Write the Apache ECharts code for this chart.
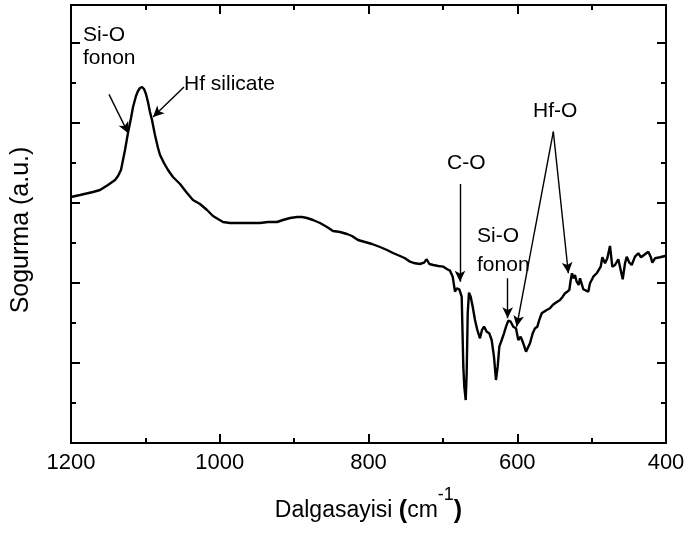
<!DOCTYPE html>
<html><head><meta charset="utf-8">
<script src="https://cdn.jsdelivr.net/npm/echarts@6/dist/echarts.min.js"></script>
<style>html,body{margin:0;padding:0;background:#fff}#c{width:684px;height:534px}</style>
</head><body><div id="c"></div>
<script>
const wavenumber = [
1200,1187.9,1170.4,1161.0,1150.3,1140.8,1136.8,1132.8,1130.1,1127.4,
1123.4,1119.3,1116.6,1112.6,1109.9,1107.2,1104.5,1101.8,1099.2,1096.5,
1093.8,1091.1,1087.1,1083.0,1080.3,1075.0,1069.6,1062.9,1053.4,1044.0,
1036.0,1026.6,1017.1,1009.1,1002.4,995.6,986.2,976.8,966.1,956.6,
945.9,935.1,923.0,915.0,905.5,896.1,889.4,882.7,874.6,865.2,
855.8,847.7,838.3,828.9,822.2,814.1,
804.7,795.3,784.5,775.1,767.1,757.6,
750.9,744.2,737.5,730.8,725.4,721.8,718.2,712.9,706.1,699.4,
694.1,690.4,686.8,683.7,681.4,677.9,674.7,672.5,671.2,669.3,
668.0,666.6,664.9,662.6,659.9,656.8,653.7,650.1,647.4,644.7,
641.1,637.6,634.4,631.3,628.6,626.3,624.1,620.9,617.8,615.1,
612.0,608.8,605.3,601.7,598.6,595.4,591.9,588.2,586.0,582.9,
579.2,576.1,573.0,570.4,567.1,564.0,560.4,556.0,552.3,549.2,
546.2,542.5,538.9,535.8,532.7,530.0,528.1,526.4,524.6,522.4,
520.1,517.4,
515.6,511.2,504.5,502.2,497.7,493.2,491.0,487.8,485.6,482.0,
478.9,475.3,472.2,468.6,464.1,460.9,458.2,455.1,452.8,449.3,
446.1,441.7,437.2,433.6,429.6,423.8,420.6,418.4,414.8,408.1,
401.3,400];
const absorbance = [
6.15,6.2,6.275,6.325,6.45,6.575,6.675,6.825,7.075,7.325,
7.75,8.125,8.4,8.675,8.8,8.875,8.9,8.85,8.725,8.525,
8.275,8.075,7.7,7.375,7.2,7.0,6.825,6.65,6.475,6.25,
6.075,5.975,5.825,5.675,5.6,5.525,5.5,5.5,5.5,5.5,
5.5,5.525,5.525,5.575,5.625,5.65,5.65,5.625,5.575,5.5,
5.4,5.3,5.275,5.225,5.175,5.075,
5.025,4.975,4.9,4.825,4.75,4.675,
4.618,4.533,4.493,4.475,4.508,4.593,4.475,4.45,4.425,4.408,
4.343,4.308,4.158,3.783,3.868,3.843,3.658,1.908,1.408,1.075,
1.743,3.243,3.758,3.658,3.408,3.075,2.825,2.618,2.825,2.908,
2.783,2.743,2.575,2.158,1.575,1.908,2.408,2.575,2.743,2.908,
3.058,3.033,2.908,2.868,2.575,2.658,2.493,2.283,2.243,2.493,
2.743,2.868,2.908,3.075,3.243,3.283,3.325,3.368,3.45,3.493,
3.533,3.575,3.658,3.743,3.783,3.825,4.075,4.243,4.118,4.2,
4.033,3.95,
4.118,3.843,3.783,3.993,4.158,4.243,4.283,4.408,4.643,4.493,
4.618,4.925,4.408,4.45,4.593,4.325,4.093,4.493,4.658,4.508,
4.45,4.658,4.743,4.643,4.7,4.783,4.658,4.508,4.618,4.643,
4.675,4.675];

const yMajorTicks = [2,4,6,8,10];
const yMinorTicks = [1,3,5,7,9];

// annotation arrows (data coordinates)
const arrowFrom = [[1148.9,8.717],[1048.1,8.9],[677.0,6.475],[612.9,4.118],[551.5,7.783],[551.5,7.783]];
const arrowTo   = [[1123.0,7.742],[1089.7,8.15],[677.0,4.033],[612.9,3.118],[600.8,2.908],[531.3,4.243]];
// annotation texts (left edge, baseline in data coordinates)
const labelText = ['Si-O','fonon','Hf silicate','C-O','Si-O','fonon','Hf-O'];
const labelX    = [1183.9,1183.9,1048.1,694.4,654.1,654.1,578.8];
const labelY    = [10.025,9.45,8.8,6.825,5.0,4.275,8.125];

const FONT = '"Liberation Sans", Arial, sans-serif';
const chart = echarts.init(document.getElementById('c'), null, {renderer:'canvas'});

const axisLine = {show:true, onZero:false, lineStyle:{color:'#000', width:2}};
function xAx(pos, labels){
  return {
    type:'value', position:pos, min:400, max:1200, interval:200, inverse:true,
    axisLine:axisLine,
    axisTick:{show:true, inside:true, length:9, lineStyle:{color:'#000', width:2}},
    minorTick:{show:true, splitNumber:2, length:5, lineStyle:{color:'#000', width:2}},
    splitLine:{show:false}, minorSplitLine:{show:false},
    axisLabel:{show:labels, fontSize:22, color:'#000', fontFamily:FONT, margin:9,
      formatter:(v)=>String(v)},
  };
}
function yAx(pos, ticks, len, line){
  return {
    type:'value', position:pos, min:0, max:10.95,
    axisLine: line ? axisLine : {show:false},
    axisTick:{show:true, inside:true, length:len, customValues:ticks, lineStyle:{color:'#000', width:2}},
    splitLine:{show:false},
    axisLabel:{show:false},
  };
}
const xBottom = xAx('bottom', true);
xBottom.name = 'Dalgasayisi {b|(}cm{s|-1}{b|)}';
xBottom.nameLocation = 'middle';
xBottom.nameGap = 43;
xBottom.nameTextStyle = {fontSize:23, color:'#000', fontFamily:FONT, lineHeight:50,
  rich:{b:{fontSize:25, fontWeight:'bold', fontFamily:FONT, color:'#000', lineHeight:50},
        s:{fontSize:18, fontFamily:FONT, color:'#000', verticalAlign:'top', lineHeight:18}}};
const yLeft = yAx('left', yMajorTicks, 9, true);
yLeft.name = 'Sogurma (a.u.)';
yLeft.nameLocation = 'middle';
yLeft.nameGap = 37;
yLeft.nameTextStyle = {fontSize:25, color:'#000', fontFamily:FONT, padding:[0,12,0,0]};

const arrows = arrowFrom.map((f,i)=>[{coord:f},{coord:arrowTo[i]}]);

chart.setOption({
  animation:false,
  backgroundColor:'#fff',
  grid:{left:71, right:18, top:5, bottom:91, outerBoundsMode:'none', containLabel:false},
  xAxis:[xBottom, xAx('top', false)],
  yAxis:[yLeft, yAx('left', yMinorTicks, 5, false), yAx('right', yMajorTicks, 9, true), yAx('right', yMinorTicks, 5, false)],
  series:[{
    type:'line', xAxisIndex:0, yAxisIndex:0,
    data: wavenumber.map((w,i)=>[w, absorbance[i]]),
    showSymbol:false, symbol:'none',
    lineStyle:{color:'#000', width:2.4},
    markLine:{
      silent:true, animation:false,
      symbol:['none','arrow'], symbolSize:[8,11],
      lineStyle:{color:'#000', width:1.4, type:'solid'},
      label:{show:false},
      emphasis:{disabled:true},
      data: arrows
    }
  }]
});

const FS = 21;
const g = labelText.map((t,i)=>{
  const p = chart.convertToPixel({xAxisIndex:0, yAxisIndex:0}, [labelX[i], labelY[i]]);
  return {type:'text', x:p[0], y:p[1] - 0.31*FS, silent:true,
    style:{text:t, fill:'#000', font: FS + 'px ' + FONT, textAlign:'left', textVerticalAlign:'middle', verticalAlign:'middle'}};
});
chart.setOption({graphic:g});
</script></body></html>
